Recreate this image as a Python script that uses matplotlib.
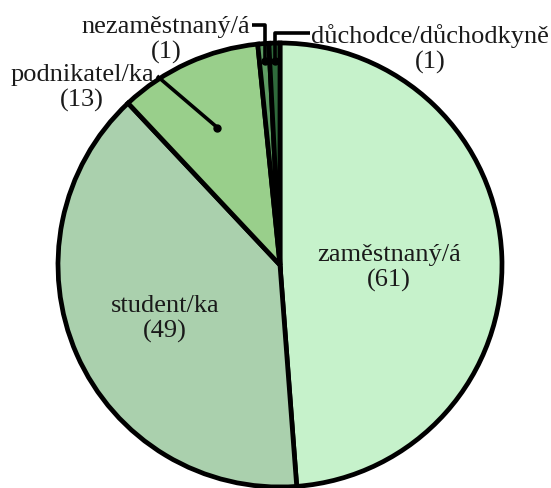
import matplotlib.pyplot as plt
import numpy as np

labels = ["zaměstnaný/á", "student/ka", "podnikatel/ka", "nezaměstnaný/á", "důchodce/důchodkyně"]
counts = [61, 49, 13, 1, 1]
colors = ["#c6f2cb", "#aad0ad", "#99cf8b", "#5e9c63", "#2f6a3b"]

W, H = 551, 488
CX, CY, R = 280, 265, 222


def px(x, y):
    # pixel position (from top-left) -> data coords, pie radius = 1
    return (x - CX) / R, (CY - y) / R


plt.rcParams["font.family"] = ["Liberation Serif", "DejaVu Serif"]

fig = plt.figure(figsize=(W / 100, H / 100), dpi=100)
ax = fig.add_axes([0, 0, 1, 1])

wedges, _ = ax.pie(
    counts,
    colors=colors,
    startangle=90,
    counterclock=False,
    radius=1,
    wedgeprops=dict(edgecolor="black", linewidth=3.4),
)

x0, y0 = px(0, H)
x1, y1 = px(W, 0)
ax.set_xlim(x0, x1)
ax.set_ylim(y0, y1)
ax.set_aspect("equal")
ax.axis("off")

txt = dict(fontsize=19, color="#1a1a1a", ha="center", va="center", linespacing=1.2)

# inside labels
inside_pos = {0: (389, 268), 1: (165, 319)}
for i, (x, y) in inside_pos.items():
    ax.text(*px(x, y), f"{labels[i]}\n({counts[i]})", **txt)

# outside labels with leader lines
total = sum(counts)
cum = np.cumsum([0] + counts)


def anchor(i, r):
    mid = (cum[i] + cum[i + 1]) / 2 / total * 2 * np.pi
    return r * np.sin(mid), r * np.cos(mid)


leaders = {
    2: (0.68, [(157, 76)], (82, 88)),
    3: (0.92, [(264, 25), (252, 25)], (166, 40)),
    4: (0.92, [(274, 33), (310, 33)], (430, 49)),
}
for i, (r, bends, tpos) in leaders.items():
    ax_, ay_ = anchor(i, r)
    pts = [(ax_, ay_)]
    for bx, by in bends:
        bxd, byd = px(bx, by)
        if len(pts) == 1 and len(bends) > 1:
            bxd = ax_
        pts.append((bxd, byd))
    xs, ys = zip(*pts)
    ax.plot(xs, ys, color="black", lw=2.6, solid_capstyle="butt")
    ax.plot(ax_, ay_, "o", color="black", ms=5)
    ax.text(*px(*tpos), f"{labels[i]}\n({counts[i]})", **txt)

fig.savefig("out.png", dpi=100)
